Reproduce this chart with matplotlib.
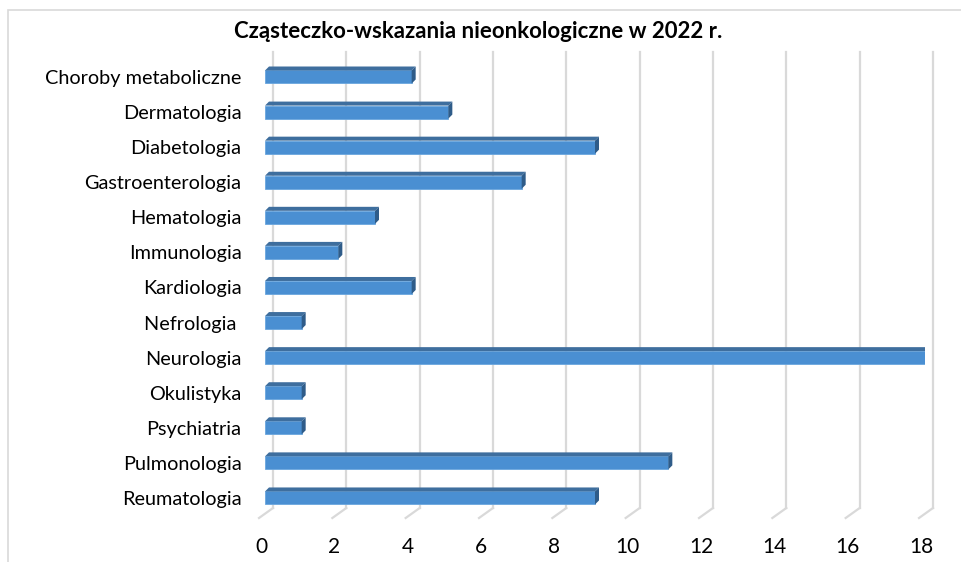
import matplotlib.pyplot as plt
import matplotlib.transforms as mtransforms
from matplotlib.patches import Polygon, Rectangle

categories = ['Choroby metaboliczne', 'Dermatologia', 'Diabetologia', 'Gastroenterologia',
              'Hematologia', 'Immunologia', 'Kardiologia', 'Nefrologia ', 'Neurologia',
              'Okulistyka', 'Psychiatria', 'Pulmonologia', 'Reumatologia']
values = [4, 5, 9, 7, 3, 2, 4, 1, 18, 1, 1, 11, 9]
ticks = [0, 2, 4, 6, 8, 10, 12, 14, 16, 18]
title = 'Cząsteczko-wskazania nieonkologiczne w 2022 r.'

plt.rcParams['font.family'] = ['Lato', 'DejaVu Sans']

W, H = 961, 562
fig = plt.figure(figsize=(W / 100, H / 100), dpi=100)
fig.patch.set_facecolor('white')

# outer chart border (only top/left visible)
fig.add_artist(Rectangle((8 / W, -0.05), 1.2, 1 - 10 / H + 0.05, transform=fig.transFigure,
                         fill=False, edgecolor='#d9d9d9', linewidth=1.2))

# axes: x 0..18 -> px 265..925, y rows at 77 + i*35.08
px_per_row = 35.08
top_px, bot_px = 52, 508
ax = fig.add_axes([265 / W, (H - bot_px) / H, 660 / W, (bot_px - top_px) / H])
ax.set_xlim(0, 18)
y0 = (top_px - 77) / px_per_row
y1 = (bot_px - 77) / px_per_row
ax.set_ylim(y1, y0)
for s in ax.spines.values():
    s.set_visible(False)

# gridlines shifted right (3d perspective)
grid_tr = mtransforms.offset_copy(ax.transData, fig=fig, x=8, y=0, units='dots')
blend = mtransforms.blended_transform_factory(grid_tr, ax.transAxes)
for t in ticks:
    ax.plot([t, t], [0, 1], transform=blend, color='#d9d9d9', lw=1.6, zorder=0, clip_on=False)
diag_base = mtransforms.blended_transform_factory(ax.transData, ax.transAxes)
for t in ticks:
    tr = mtransforms.offset_copy(diag_base, fig=fig, x=8, y=0, units='dots')
    tr2 = mtransforms.offset_copy(diag_base, fig=fig, x=-6, y=-10, units='dots')
    p0 = tr.transform((t, 0))
    p1 = tr2.transform((t, 0))
    fig.add_artist(plt.Line2D([p0[0] / W, p1[0] / W], [p0[1] / H, p1[1] / H],
                              transform=fig.transFigure, color='#d9d9d9', lw=1.6))

# 3d bars
bh = 13 / px_per_row
dx = 4 / 36.67
dy = 4 / px_per_row
front = '#4a8fd2'
topc = '#3e6e9e'
side = '#2f5c89'
ypos = list(range(len(categories)))
ax.barh(ypos, values, height=bh, color=front, edgecolor='#6aa6de', linewidth=0.6, zorder=3)
for y, v in zip(ypos, values):
    yt = y - bh / 2
    ax.add_patch(Polygon([(0, yt), (dx, yt - dy), (v + dx, yt - dy), (v, yt)],
                         closed=True, facecolor=topc, edgecolor='none', zorder=3))
    ax.add_patch(Polygon([(v, yt), (v + dx, yt - dy), (v + dx, yt + bh - dy), (v, yt + bh)],
                         closed=True, facecolor=side, edgecolor='none', zorder=3))

ax.set_yticks(ypos)
ax.set_yticklabels(categories, fontsize=14.3)
ax.tick_params(axis='y', length=0, pad=17)
ax.set_xticks(ticks)
ax.set_xticklabels([str(t) for t in ticks], fontsize=15)
ax.tick_params(axis='x', length=0, pad=21)
shift = mtransforms.ScaledTranslation(-4 / 100, 0, fig.dpi_scale_trans)
for lab in ax.get_xticklabels():
    lab.set_transform(lab.get_transform() + shift)

fig.text(478 / W, 1 - 31 / H, title, ha='center', va='center', fontsize=16, fontweight='bold')

fig.savefig('out.png', dpi=100)
